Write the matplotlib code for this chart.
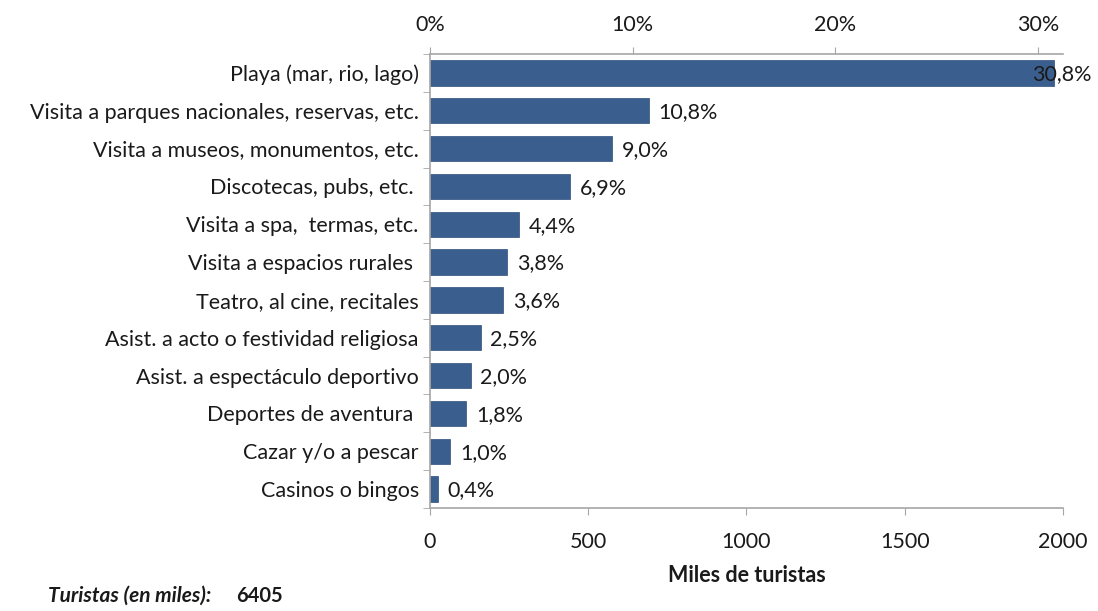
import matplotlib
matplotlib.use("Agg")
import matplotlib.pyplot as plt
import numpy as np

categories = [
    "Playa (mar, rio, lago)",
    "Visita a parques nacionales, reservas, etc.",
    "Visita a museos, monumentos, etc.",
    "Discotecas, pubs, etc. ",
    "Visita a spa,  termas, etc.",
    "Visita a espacios rurales ",
    "Teatro, al cine, recitales",
    "Asist. a acto o festividad religiosa",
    "Asist. a espectáculo deportivo",
    "Deportes de aventura ",
    "Cazar y/o a pescar",
    "Casinos o bingos",
]
percent = [30.8, 10.8, 9.0, 6.9, 4.4, 3.8, 3.6, 2.5, 2.0, 1.8, 1.0, 0.4]
total_miles = 6405
pct_labels = ["30,8%", "10,8%", "9,0%", "6,9%", "4,4%", "3,8%", "3,6%",
              "2,5%", "2,0%", "1,8%", "1,0%", "0,4%"]
bottom_ticks = [0, 500, 1000, 1500, 2000]
top_ticks = [0, 10, 20, 30]

miles = [p * total_miles / 100 for p in percent]

plt.rcParams['font.family'] = ['Lato', 'DejaVu Sans']
fs = 15.5
bar_color = '#3A5F8F'
spine_color = '#A6A6A6'
txt = '#1a1a1a'

fig = plt.figure(figsize=(10.98, 6.11), dpi=100)
ax = fig.add_axes([0.3916, 0.1686, 0.5765, 0.743])

y = np.arange(len(categories))
ax.barh(y, miles, height=0.67, color=bar_color, edgecolor='#2F4F7A', linewidth=0.5)
ax.set_xlim(0, 2000)
ax.set_ylim(len(categories) - 0.5, -0.5)

ax.set_yticks(y)
ax.set_yticklabels(categories, fontsize=fs, color=txt)
ax.tick_params(axis='y', which='major', length=0, pad=8)
ax.set_yticks(np.arange(-0.5, len(categories), 1), minor=True)
ax.tick_params(axis='y', which='minor', length=5, color=spine_color, direction='out')

ax.set_xticks(bottom_ticks)
ax.set_xticklabels([str(t) for t in bottom_ticks], fontsize=fs, color=txt)
ax.tick_params(axis='x', which='major', length=5, color=spine_color, pad=12)
ax.set_xlabel("Miles de turistas", fontsize=fs, fontweight='bold', labelpad=10, color=txt)

for side in ['right', 'top']:
    ax.spines[side].set_visible(False)
for side in ['left', 'bottom']:
    ax.spines[side].set_color(spine_color)
    ax.spines[side].set_linewidth(1.2)

sec = ax.secondary_xaxis('top', functions=(lambda x: x / total_miles * 100,
                                           lambda p: p * total_miles / 100))
sec.set_xticks(top_ticks)
sec.set_xticklabels([f"{t}%" for t in top_ticks], fontsize=fs, color=txt)
sec.tick_params(axis='x', length=5, color=spine_color, pad=9)
sec.spines['top'].set_color(spine_color)
sec.spines['top'].set_linewidth(1.2)

for i, (v, lab) in enumerate(zip(miles, pct_labels)):
    dx = -16 if i == 0 else 7
    ax.annotate(lab, xy=(v, i), xytext=(dx, -1), textcoords='offset points',
                va='center', ha='left', fontsize=fs, color=txt)

fig.text(0.044, 0.008, "Turistas (en miles):", fontsize=15, fontweight='bold',
         fontstyle='italic', color=txt, ha='left', va='bottom')
fig.text(0.215, 0.008, "6405", fontsize=14.5, fontweight='bold',
         color=txt, ha='left', va='bottom')

fig.savefig("out.png", dpi=100)
